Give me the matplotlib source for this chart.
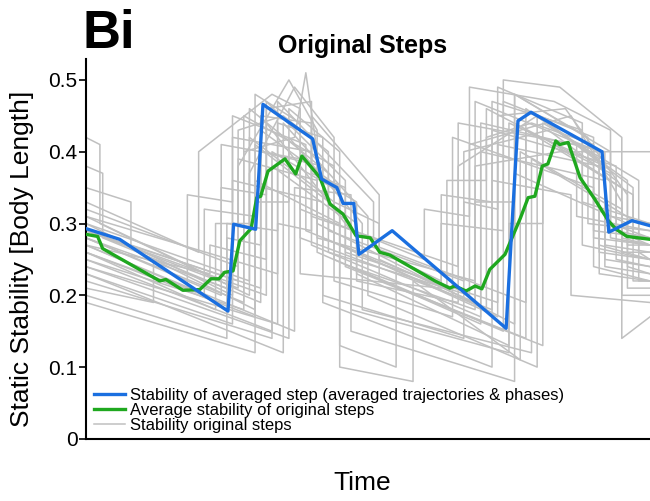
import matplotlib
matplotlib.use("Agg")
import matplotlib.pyplot as plt

plt.rcParams['font.family'] = ['Liberation Sans', 'DejaVu Sans']

# time in % of two strides, stability in body lengths
blue_t = [0, 6.0, 25.2, 26.2, 30.1, 31.4, 40.2, 41.8, 44.5, 45.6, 47.5, 48.4, 50.4,
          54.3, 74.5, 76.6, 78.9, 91.5, 92.7, 96.8, 100]
blue_v = [0.293, 0.278, 0.178, 0.299, 0.292, 0.466, 0.418, 0.362, 0.350, 0.328, 0.328,
          0.257, 0.268, 0.290, 0.154, 0.443, 0.455, 0.400, 0.288, 0.304, 0.297]

green_t = [0, 2.1, 3.0, 13.1, 14.2, 17.2, 20.2, 22.2, 23.6, 24.6, 26.1, 27.3, 29.3, 30.3,
           31.0, 32.3, 35.3, 37.2, 38.3, 41.5, 43.3, 45.6, 47.9, 50.4, 52.1, 53.9, 61.9,
           64.5, 65.4, 67.4, 69.0, 70.2, 71.6, 74.3, 77.0, 78.4, 79.6, 80.9, 81.9, 83.3,
           84.0, 85.5, 87.6, 90.2, 92.6, 94.0, 95.9, 100]
green_v = [0.285, 0.282, 0.265, 0.220, 0.222, 0.207, 0.208, 0.223, 0.223, 0.232, 0.234,
           0.276, 0.293, 0.336, 0.338, 0.373, 0.390, 0.369, 0.394, 0.364, 0.327, 0.313,
           0.283, 0.280, 0.260, 0.256, 0.220, 0.210, 0.213, 0.206, 0.213, 0.209, 0.236,
           0.257, 0.307, 0.336, 0.338, 0.380, 0.383, 0.415, 0.410, 0.413, 0.364, 0.334,
           0.304, 0.292, 0.282, 0.278]

# individual original steps (t, value) pairs
steps = [
    [(0, .30), (26, .20), (26, .42), (40, .40), (40, .27), (70, .17), (70, .44), (92, .40), (92, .27), (100, .26)],
    [(0, .28), (28, .19), (28, .45), (44, .38), (44, .25), (74, .15), (74, .47), (90, .42), (90, .28), (100, .27)],
    [(0, .26), (30, .17), (30, .48), (38, .44), (38, .28), (72, .18), (72, .43), (94, .38), (94, .25), (100, .24)],
    [(0, .31), (24, .22), (24, .35), (32, .34), (32, .47), (46, .36), (46, .24), (78, .14), (78, .46), (96, .36), (96, .24), (100, .23)],
    [(0, .25), (33, .15), (33, .40), (48, .33), (48, .22), (66, .19), (66, .38), (80, .45), (91, .39), (91, .26), (100, .25)],
    [(0, .29), (27, .21), (27, .38), (36, .50), (41, .43), (41, .30), (76, .16), (76, .48), (89, .42), (89, .30), (100, .29)],
    [(0, .23), (35, .12), (35, .44), (50, .31), (50, .20), (80, .10), (80, .45), (97, .35), (97, .22), (100, .22)],
    [(0, .42), (2.5, .41), (2.5, .30), (29, .20), (29, .46), (43, .37), (43, .26), (68, .20), (68, .41), (86, .45), (95, .33), (95, .26), (100, .26)],
    [(0, .38), (3, .37), (3, .28), (31, .19), (31, .43), (45, .35), (45, .27), (73, .17), (73, .49), (88, .44), (88, .27), (100, .25)],
    [(0, .27), (18, .21), (18, .34), (26, .33), (26, .45), (39, .41), (39, .29), (64, .21), (64, .36), (71, .36), (71, .46), (93, .37), (93, .28), (100, .27)],
    [(0, .19), (30, .12), (30, .36), (45, .30), (45, .10), (58, .08), (58, .22), (77, .11), (77, .40), (95, .32), (95, .20), (100, .20)],
    [(0, .28), (25, .21), (25, .30), (34, .29), (34, .44), (42, .42), (42, .28), (71, .18), (71, .42), (79, .44), (90, .41), (90, .29), (100, .28)],
    [(0, .26), (21, .20), (21, .32), (30, .31), (30, .41), (48, .30), (48, .23), (75, .13), (75, .44), (92, .38), (92, .25), (100, .24)],
    [(0, .30), (29, .22), (29, .37), (37, .49), (44, .42), (44, .33), (52, .30), (52, .25), (69, .19), (69, .33), (76, .33), (76, .48), (93, .40), (93, .30), (100, .28)],
    [(0, .24), (36, .14), (36, .42), (49, .30), (49, .18), (79, .12), (79, .39), (98, .30), (98, .22), (100, .22)],
    [(0, .29), (31, .21), (31, .45), (40, .44), (40, .37), (46, .35), (46, .26), (73, .19), (73, .45), (85, .46), (96, .34), (96, .27), (100, .27)],
    [(0, .32), (27, .24), (27, .43), (35, .45), (43, .40), (43, .29), (67, .22), (67, .40), (82, .43), (94, .36), (94, .29), (100, .28)],
    [(0, .22), (33, .14), (33, .38), (47, .30), (47, .15), (76, .08), (76, .37), (96, .30), (96, .21), (100, .21)],
    [(0, .27), (22, .23), (22, .27), (32, .25), (32, .46), (40, .47), (40, .31), (66, .24), (66, .44), (87, .41), (87, .31), (100, .29)],
    [(0, .25), (28, .18), (28, .40), (37, .42), (39, .51), (41, .40), (41, .26), (70, .16), (70, .40), (92, .36), (92, .24), (100, .23)],
    [(0, .28), (24, .20), (24, .41), (38, .39), (38, .23), (63, .21), (63, .30), (74, .29), (74, .50), (84, .49), (95, .42), (95, .28), (100, .27)],
    [(0, .31), (34, .23), (34, .47), (51, .33), (51, .27), (78, .19), (78, .43), (97, .34), (97, .28), (100, .27)],
    [(0, .23), (26, .16), (26, .36), (42, .33), (42, .19), (72, .10), (72, .36), (86, .34), (86, .20), (100, .19)],
    [(0, .29), (32, .20), (32, .44), (47, .29), (47, .24), (69, .18), (69, .47), (91, .40), (91, .27), (100, .25)],
    [(0, .26), (23, .18), (23, .30), (29, .30), (29, .42), (44, .33), (44, .22), (65, .17), (65, .42), (90, .35), (90, .24), (100, .22)],
    [(0, .35), (8, .33), (8, .27), (27, .22), (27, .39), (41, .36), (41, .28), (69, .22), (69, .38), (84, .40), (100, .40)],
    [(0, .21), (12, .19), (12, .25), (30, .18), (30, .33), (36, .33), (36, .46), (45, .40), (45, .13), (55, .10), (55, .25), (63, .22), (63, .34), (72, .33), (72, .47), (88, .43), (88, .33), (100, .30)],
    [(0, .24), (34, .16), (34, .30), (40, .29), (40, .45), (52, .34), (52, .22), (81, .13), (81, .42), (95, .35), (95, .14), (100, .17)],
    [(0, .33), (20, .26), (20, .40), (33, .48), (38, .46), (38, .32), (60, .25), (60, .32), (68, .31), (68, .49), (83, .47), (93, .43), (93, .31), (100, .30)],
    [(0, .27), (37, .15), (37, .35), (47, .34), (47, .18), (75, .12), (75, .30), (81, .30), (81, .44), (98, .36), (98, .26), (100, .25)],
    [(0, .20), (25, .14), (25, .28), (31, .27), (31, .40), (42, .38), (42, .20), (67, .14), (67, .33), (73, .32), (73, .41), (91, .38), (91, .23), (100, .22)],
]

fig = plt.figure(figsize=(6.5, 5.01), dpi=100)
ax = fig.add_axes([0.132, 0.124, 0.868, 0.758])

for i, s in enumerate(steps):
    t = [p[0] for p in s]
    v = [p[1] for p in s]
    ax.plot(t, v, color='#c0c0c0', lw=1.1,
            label='Stability original steps' if i == 0 else None, zorder=1)

ax.plot(green_t, green_v, color='#1fa81f', lw=2.4, label='Average stability of original steps', zorder=3)
ax.plot(blue_t, blue_v, color='#1a6fe0', lw=2.4,
        label='Stability of averaged step (averaged trajectories & phases)', zorder=4)

ax.set_xlim(0, 100)
ax.set_ylim(0, 0.529)
ax.set_xticks([])
ax.set_yticks([0, 0.1, 0.2, 0.3, 0.4, 0.5])
ax.set_yticklabels(['0', '0.1', '0.2', '0.3', '0.4', '0.5'])
ax.tick_params(axis='y', labelsize=15, length=5, width=1.2, pad=1)
for side in ['top', 'right']:
    ax.spines[side].set_visible(False)
ax.spines['left'].set_linewidth(1.5)
ax.spines['bottom'].set_linewidth(1.5)

ax.set_ylabel('Static Stability [Body Length]', fontsize=19)
ax.yaxis.set_label_coords(-0.092, 0.475)
ax.set_xlabel('Time', fontsize=19)
ax.xaxis.set_label_coords(0.49, -0.085)

handles, labels = ax.get_legend_handles_labels()
order = [2, 1, 0]
ax.legend([handles[k] for k in order], [labels[k] for k in order],
          loc='lower left', frameon=False, fontsize=12, labelspacing=0.02,
          handlelength=1.9, handletextpad=0.3, borderpad=0.0, borderaxespad=0.0,
          bbox_to_anchor=(8 / 564, 0.015))

fig.text(363 / 650, 1 - 53 / 501, 'Original Steps', fontsize=18, fontweight='bold',
         ha='center', va='baseline')
fig.text(83 / 650, 1 - 48 / 501, 'Bi', fontsize=38, fontweight='bold',
         ha='left', va='baseline')

fig.savefig('out.png', dpi=100)
